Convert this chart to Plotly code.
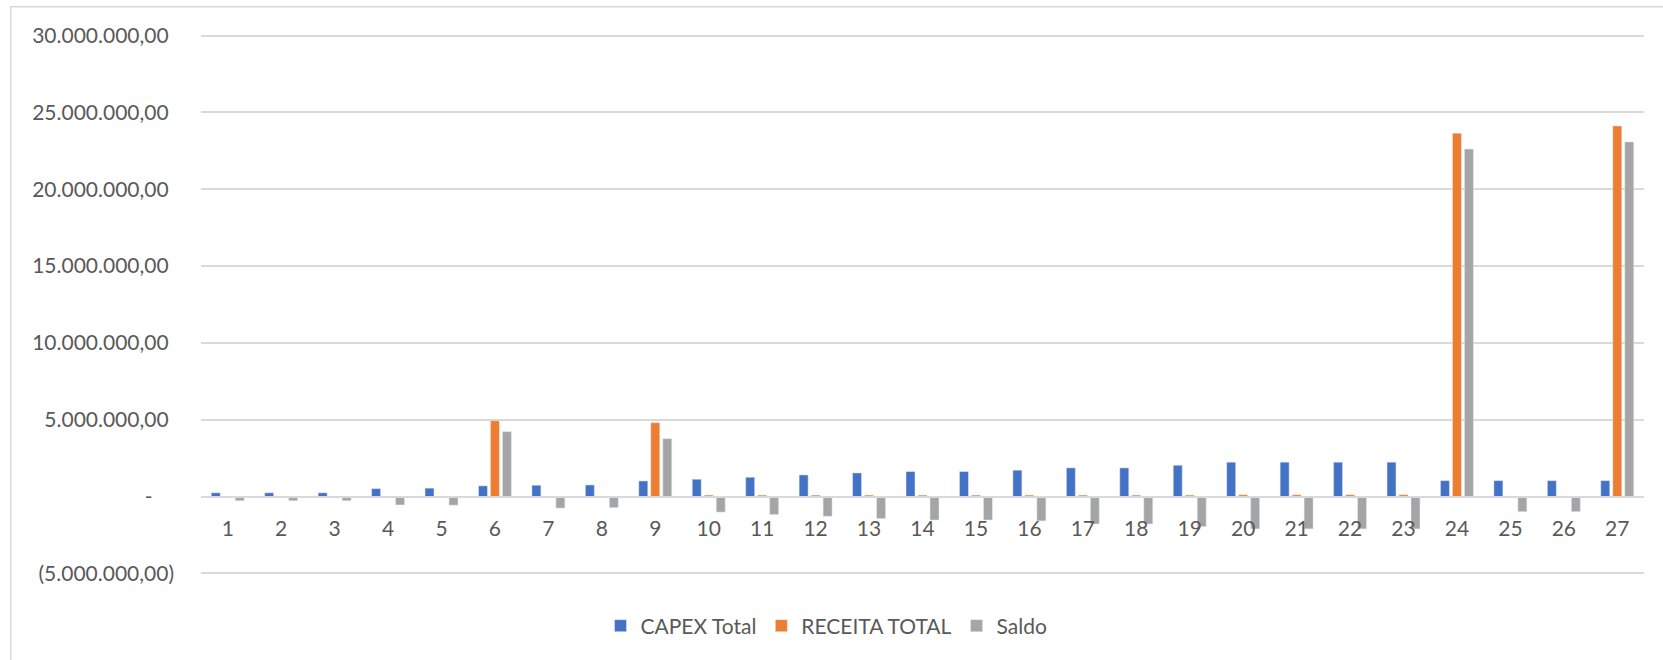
import plotly.graph_objects as go

categories = [str(i) for i in range(1, 28)]
capex_total = [0.25e6, 0.25e6, 0.25e6, 0.52e6, 0.55e6, 0.70e6, 0.74e6, 0.76e6, 1.02e6, 1.13e6,
               1.26e6, 1.41e6, 1.54e6, 1.63e6, 1.63e6, 1.72e6, 1.87e6, 1.87e6, 2.04e6, 2.24e6,
               2.24e6, 2.24e6, 2.24e6, 1.04e6, 1.04e6, 1.04e6, 1.04e6]
receita_total = [0, 0, 0, 0, 0, 4.94e6, 0, 0.02e6, 4.81e6, 0.1e6,
                 0.1e6, 0.1e6, 0.1e6, 0.1e6, 0.1e6, 0.1e6, 0.1e6, 0.1e6, 0.1e6, 0.12e6,
                 0.12e6, 0.12e6, 0.12e6, 23.65e6, 0.04e6, 0.04e6, 24.12e6]
saldo = [-0.27e6, -0.27e6, -0.27e6, -0.54e6, -0.56e6, 4.23e6, -0.75e6, -0.72e6, 3.77e6, -1.01e6,
         -1.17e6, -1.28e6, -1.43e6, -1.52e6, -1.52e6, -1.58e6, -1.78e6, -1.78e6, -1.95e6, -2.10e6,
         -2.10e6, -2.10e6, -2.10e6, 22.61e6, -0.98e6, -0.98e6, 23.08e6]

y_tickvals = [-5e6, 0, 5e6, 10e6, 15e6, 20e6, 25e6, 30e6]
NB = "\u00a0"
y_ticktext = ["(5.000.000,00)", "-" + NB * 4, "5.000.000,00" + NB, "10.000.000,00" + NB,
              "15.000.000,00" + NB, "20.000.000,00" + NB, "25.000.000,00" + NB, "30.000.000,00" + NB]
y_range = [-5.1e6, 30.1e6]

FONT = "Lato, Open Sans, sans-serif"
TXT = "#595959"
GRID = "#d9d9d9"

fig = go.Figure()
fig.add_trace(go.Bar(x=categories, y=capex_total, name="CAPEX Total", marker_color="#4472C4"))
fig.add_trace(go.Bar(x=categories, y=receita_total, name="RECEITA TOTAL", marker_color="#ED7D31"))
fig.add_trace(go.Bar(x=categories, y=saldo, name="Saldo", marker_color="#A5A5A5"))

L, R, T, B = 201, 19, 34, 85
W, H = 1663, 660
pw, ph = W - L - R, H - T - B

fig.update_layout(
    width=W, height=H,
    margin=dict(l=L, r=R, t=T, b=B),
    paper_bgcolor="white", plot_bgcolor="white",
    barmode="group", bargap=0.327, bargroupgap=0.25,
    font=dict(family=FONT, size=21, color=TXT),
    showlegend=True,
    legend=dict(orientation="h", x=(826.5 - L) / pw, xanchor="center",
                y=-(626 - (H - B)) / ph, yanchor="middle",
                font=dict(family=FONT, size=21, color=TXT),
                itemwidth=30, traceorder="normal"),
    xaxis=dict(type="category", anchor="free",
               position=(0 - y_range[0]) / (y_range[1] - y_range[0]),
               showline=True, linecolor=GRID, linewidth=2,
               showgrid=False, ticks="", ticklabelstandoff=13,
               tickfont=dict(family=FONT, size=21, color=TXT)),
    yaxis=dict(range=y_range, tickvals=y_tickvals, ticktext=y_ticktext,
               showgrid=True, gridcolor=GRID, gridwidth=1.5, zeroline=False,
               showline=False, ticks="", ticklabelstandoff=26,
               tickfont=dict(family=FONT, size=21, color=TXT)),
    shapes=[dict(type="rect", xref="paper", yref="paper",
                 x0=(10.7 - L) / pw, x1=(W + 5 - L) / pw,
                 y0=-(H + 5 - (H - B)) / ph, y1=1 + (T - 6.7) / ph,
                 line=dict(color=GRID, width=1.5), fillcolor="rgba(0,0,0,0)", layer="below")],
)

fig.write_html("out.html")
